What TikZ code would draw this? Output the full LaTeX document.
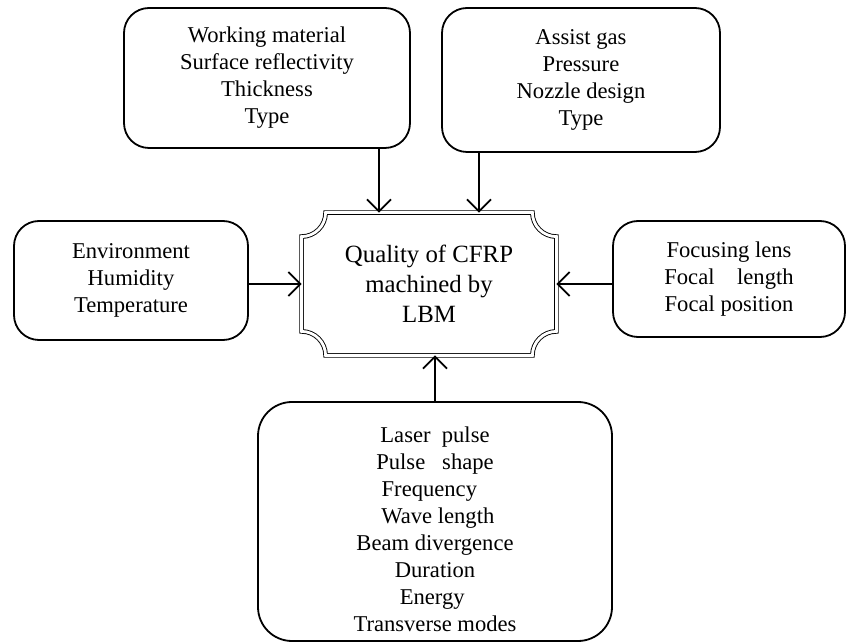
\documentclass[tikz,border=0pt]{standalone}
\usepackage{fontspec}
\setmainfont{Liberation Serif}
\usetikzlibrary{arrows.meta,calc}

\tikzset{
    factor/.style={draw,line width=0.9pt,rounded corners=12.5pt,align=center,
        inner sep=0pt,font=\fontsize{11.3}{13.5}\selectfont},
    feed/.style={line width=0.9pt,-{Straight Barb[length=6pt,width=12pt,line width=0.9pt]}},
}

\begin{document}
\begin{tikzpicture}[x=0.5pt,y=0.5pt]
    \useasboundingbox (0,0) rectangle (846,643);

    % centre: quality
    \node[align=center,minimum width=127pt,minimum height=71pt,inner sep=0pt,
        font=\fontsize{12.4}{15}\selectfont] (quality) at (429,359)
        {Quality of CFRP\\machined by\\LBM};
    \draw[line width=0.45pt,double,double distance=1.4pt]
        ([xshift=12pt]quality.north west) -- ([xshift=-12pt]quality.north east)
        arc[start angle=180,end angle=270,radius=12pt]
        -- ([yshift=12pt]quality.south east)
        arc[start angle=90,end angle=180,radius=12pt]
        -- ([xshift=12pt]quality.south west)
        arc[start angle=0,end angle=90,radius=12pt]
        -- ([yshift=-12pt]quality.north west)
        arc[start angle=270,end angle=360,radius=12pt] -- cycle;

    % factors
    \node[factor,minimum width=143pt,minimum height=70pt] (material) at (267,565)
        {Working material\\Surface reflectivity\\Thickness\\Type};
    \node[factor,minimum width=139pt,minimum height=72pt] (gas) at (581,563)
        {Assist gas\\Pressure\\Nozzle design\\Type};
    \node[factor,minimum width=117pt,minimum height=59.5pt] (environment) at (131,362.5)
        {Environment\\Humidity\\Temperature};
    \node[factor,minimum width=116pt,minimum height=58pt] (lens) at (729,364)
        {Focusing lens\\Focal\ \ \ \ length\\Focal position};
    \node[factor,rounded corners=17pt,minimum width=177pt,minimum height=119.5pt] (pulse) at (435,121.5)
        {\rule{0pt}{16pt}Laser\ \ pulse\\Pulse\ \ \ shape\\Frequency\ \ \ \ \\\ Wave length\\Beam divergence\\Duration\\Energy\ \ \ \\Transverse modes};

    % arrows
    \draw[feed] ([xshift=-25pt]quality.north |- material.south) -- ([xshift=-25pt]quality.north);
    \draw[feed] ([xshift=25pt]quality.north |- gas.south) -- ([xshift=25pt]quality.north);
    \draw[feed] (environment.east |- quality.west) -- (quality.west);
    \draw[feed] (lens.west |- quality.east) -- (quality.east);
    \draw[feed] (pulse.north) -- (pulse.north |- quality.south);
\end{tikzpicture}
\end{document}
